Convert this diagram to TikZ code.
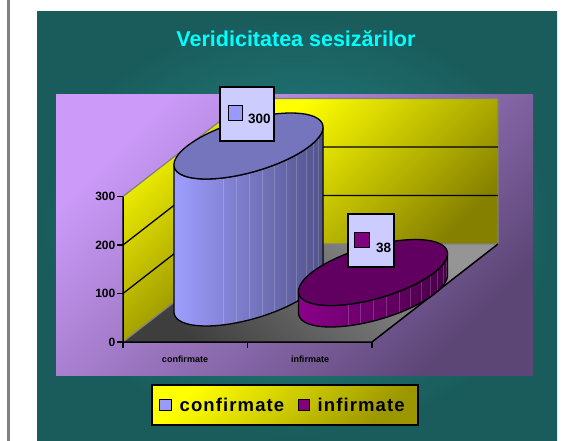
\documentclass[tikz,border=0pt]{standalone}
\usepackage{fontspec}
\setmainfont{Liberation Sans}
\newfontfamily\legendfont[LetterSpace=6]{Liberation Sans}
\usetikzlibrary{positioning}
\definecolor{tealout}{HTML}{1A5B5B}
\definecolor{tealin}{HTML}{248888}
\definecolor{titlecyan}{HTML}{00FFFF}
\definecolor{plotlight}{HTML}{CC9BFA}
\definecolor{plotdark}{HTML}{5C4676}
\definecolor{wallbright}{HTML}{FFFF00}
\definecolor{walldark}{HTML}{858000}
\definecolor{floordark}{HTML}{3E3E3E}
\definecolor{floorlight}{HTML}{959595}
\definecolor{confside}{HTML}{9E9EFF}
\definecolor{confdark}{HTML}{52528A}
\definecolor{conftop}{HTML}{7575BE}
\definecolor{infside}{HTML}{8A008A}
\definecolor{infdark}{HTML}{480048}
\definecolor{inftop}{HTML}{620062}
\definecolor{valfill}{HTML}{CCCCFF}
\definecolor{confkey}{HTML}{9999FF}
\definecolor{infkey}{HTML}{800080}
\definecolor{legdark}{HTML}{9C9600}
\tikzset{
    wallface/.style={top color=wallbright, bottom color=walldark, shading angle=45},
    walledge/.style={gray, line width=1.2pt},
    gridline/.style={black, line width=1.3pt},
    axisline/.style={black, line width=1.5pt},
    cylline/.style={black, line width=1.3pt, line join=round},
    valbox/.style={draw=black, line width=1.2pt, fill=valfill, inner sep=0pt},
    keysq/.style={draw=black, line width=1pt, inner sep=0pt, minimum width=14pt, minimum height=14pt},
    valnum/.style={font=\fontsize{13.5}{16}\selectfont\bfseries, inner sep=0pt, anchor=base west},
    ylab/.style={font=\fontsize{12}{14}\selectfont\bfseries, inner sep=0pt, anchor=east},
    catlab/.style={font=\fontsize{9}{10}\selectfont\bfseries, inner sep=0pt, anchor=base},
    legtext/.style={font=\legendfont\bfseries\fontsize{18.5}{21}\selectfont, inner sep=0pt},
}
\begin{document}
\begin{tikzpicture}[x=1pt, y=-1pt]
\useasboundingbox (0,0) rectangle (580,441);
% Page and panel background
\fill[white] (0,0) rectangle (580,441);
\fill[gray] (7,0) rectangle (10,441);
\shade[inner color=tealin, outer color=tealout] (37,12) rectangle (557,441);
\node[font=\fontsize{21.5}{24}\selectfont\bfseries, text=titlecyan, inner sep=0pt, anchor=base] (title) at (296,47) {Veridicitatea sesizărilor};

% Plot area
\shade[top color=plotlight, bottom color=plotdark, shading angle=45] (56,95) rectangle (533,375);

% Walls and floor
\shade[wallface] (123,342) -- (123,196.5) -- (249,98.5) -- (249,244) -- cycle;
\shade[wallface] (249,244) -- (249,98.5) -- (498,98.5) -- (498,244) -- cycle;
\shade[top color=floorlight, bottom color=floordark, shading angle=-45] (123,342) -- (372,342) -- (498,244) -- (249,244) -- cycle;
\draw[walledge] (123,196.5) -- (249,98.5) -- (498,98.5) -- (498,244) -- (249,244) -- (123,342);
\foreach \v in {100,200}
  \draw[gridline] (123,{342-0.485*\v}) -- (249,{244-0.485*\v}) -- (498,{244-0.485*\v});

% Axes and ticks
\draw[axisline] (123,196.5) -- (123,342) -- (372,342) -- (498,244);
\foreach \v in {0,100,200,300} {
  \draw[axisline] (117,{342-0.485*\v}) -- (123,{342-0.485*\v});
  \node[ylab] (ylab\v) at (115.5,{342-0.485*\v}) {\v};
}
\foreach \xt in {123,247.5,372}
  \draw[axisline] (\xt,342) -- (\xt,347.5);
\node[catlab] (catconf) at (185,362) {confirmate};
\node[catlab] (catinf) at (310,362) {infirmate};

% Cylinders (centre x / bottom y / top y / colours)
\foreach \cx/\yb/\yt/\colL/\colR/\colT in {248.5/293/146/confside/confdark/conftop, 373/294/272.5/infside/infdark/inftop} {
  \shade[left color=\colL, right color=\colR]
    plot[domain=214.7:394.7, samples=41] ({\cx+61.3*cos(\x)+42.4*sin(\x)}, {\yb-33*sin(\x)})
    -- plot[domain=394.7:214.7, samples=41] ({\cx+61.3*cos(\x)+42.4*sin(\x)}, {\yt-33*sin(\x)}) -- cycle;
  \foreach \t in {285,295,...,385}
    \draw[white, opacity=0.18, line width=0.6pt] ({\cx+61.3*cos(\t)+42.4*sin(\t)}, {\yt-33*sin(\t)}) -- ({\cx+61.3*cos(\t)+42.4*sin(\t)}, {\yb-33*sin(\t)});
  \draw[cylline]
    plot[domain=214.7:394.7, samples=41] ({\cx+61.3*cos(\x)+42.4*sin(\x)}, {\yb-33*sin(\x)})
    -- plot[domain=394.7:214.7, samples=41] ({\cx+61.3*cos(\x)+42.4*sin(\x)}, {\yt-33*sin(\x)}) -- cycle;
  \draw[cylline, fill=\colT]
    plot[domain=0:360, samples=73] ({\cx+61.3*cos(\x)+42.4*sin(\x)}, {\yt-33*sin(\x)}) -- cycle;
}

% Value labels
\node[valbox, minimum width=54pt, minimum height=54pt] (valconf) at (247,114) {};
\node[keysq, fill=confkey] (keyconf) at (235,113) {};
\node[valnum] (numconf) at (248,124) {300};
\node[valbox, minimum width=46pt, minimum height=53pt] (valinf) at (371,240.5) {};
\node[keysq, fill=infkey, minimum width=15pt, minimum height=15pt] (keyinf) at (361.5,239.5) {};
\node[valnum] (numinf) at (376,252) {38};

% Legend
\node[draw=black, line width=1.5pt, top color=wallbright, bottom color=legdark, shading angle=45, minimum width=266pt, minimum height=40pt] (legend) at (285,405) {};
\node[keysq, fill=confkey, minimum width=12pt, minimum height=11pt] (legkeyconf) at (165,404.5) {};
\node[legtext, right=8pt of legkeyconf] (legconf) {confirmate};
\node[keysq, fill=infkey, minimum width=11pt, minimum height=11pt] (legkeyinf) at (303.5,404.5) {};
\node[legtext, right=8pt of legkeyinf] (leginf) {infirmate};
\end{tikzpicture}
\end{document}
